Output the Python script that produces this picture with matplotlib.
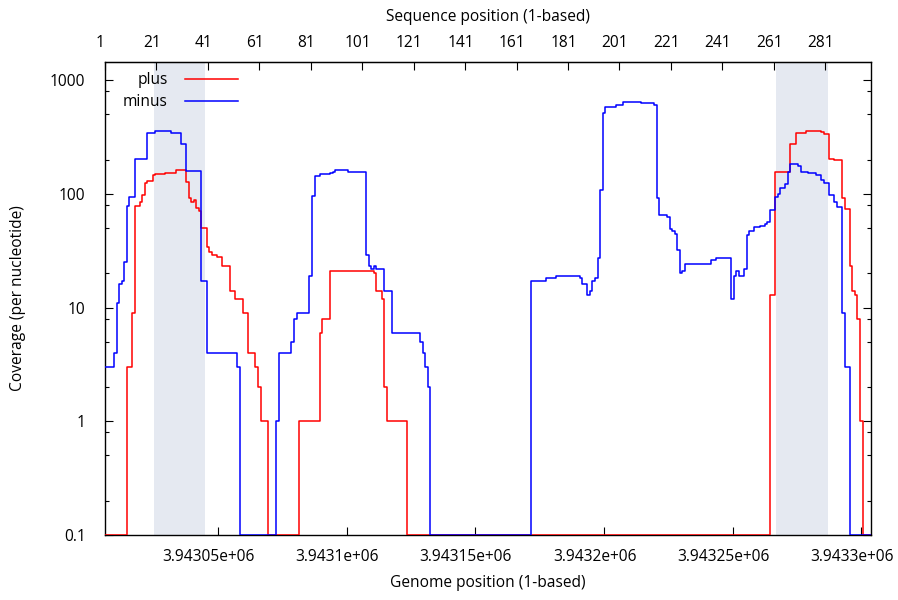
import numpy as np
import matplotlib
matplotlib.use('Agg')
import matplotlib.pyplot as plt
import matplotlib.transforms as mtransforms
from matplotlib.ticker import LogLocator, FixedLocator, FuncFormatter, NullFormatter

plt.rcParams['font.family'] = ['Open Sans', 'DejaVu Sans']
plt.rcParams['font.size'] = 11.2

# genome position = sequence position + offset
offset = 3943005
seq_end = 298.8

# coverage runs: sequence position where a run starts, coverage of that run
plus_start = [1, 10, 12, 13, 15, 16, 17, 18, 20, 21, 25, 29, 33, 34, 35, 36, 37, 38, 39, 41,
              42, 43, 45, 47, 50, 52, 55, 57, 60, 61, 62, 65, 77, 85, 86, 89, 106, 107, 109, 110,
              111, 119, 260, 262, 268, 270, 274, 280, 281, 283, 285, 288, 289, 291, 292, 293, 294, 295, 296]
plus_cov = [0, 3, 9, 78, 85, 98, 124, 129, 146, 149, 153, 162, 128, 92, 84, 88, 75, 70, 50, 34,
            31, 29, 28, 23, 14, 12, 9, 4, 3, 2, 1, 0, 1, 6, 8, 21, 20, 14, 12, 2,
            1, 0, 13, 154, 272, 340, 356, 347, 335, 202, 198, 91, 74, 23, 14, 13, 8, 1, 0]

minus_start = [1, 5, 6, 7, 8, 9, 10, 11, 13, 18, 21, 27, 31, 33, 39, 41, 53, 54, 68, 69,
               74, 75, 76, 81, 82, 83, 85, 89, 90, 91, 96, 103, 104, 105, 106, 107, 110, 113, 124, 125,
               126, 127, 128, 167, 173, 177, 186, 187, 189, 190, 191, 192, 193, 194, 195, 196, 200, 203, 210, 215,
               216, 217, 220, 221, 222, 223, 224, 225, 226, 227, 237, 239, 245, 246, 247, 248, 250, 251, 252, 254,
               256, 258, 259, 260, 262, 263, 264, 266, 267, 268, 271, 272, 275, 278, 280, 281, 283, 285, 286, 288,
               289, 291]
minus_cov = [3, 4, 11, 16, 17, 25, 78, 94, 202, 344, 356, 344, 274, 158, 17, 4, 3, 0, 1, 4,
             5, 8, 9, 19, 96, 143, 149, 153, 156, 162, 155, 29, 23, 22, 23, 22, 14, 6, 5, 4,
             3, 2, 0, 17, 18, 19, 18, 16, 13, 14, 17, 18, 27, 108, 516, 583, 599, 641, 631, 600,
             92, 65, 62, 49, 47, 44, 32, 20, 21, 24, 26, 27, 12, 19, 21, 19, 22, 43, 47, 51,
             52, 54, 57, 72, 94, 100, 112, 121, 156, 181, 177, 154, 151, 146, 132, 125, 97, 84, 77, 9,
             3, 0]

# highlighted regions (sequence positions)
regions = [(20, 40), (262, 282)]

seq_ticks = [1, 21, 41, 61, 81, 101, 121, 141, 161, 181, 201, 221, 241, 261, 281]
genome_ticks = [3943050, 3943100, 3943150, 3943200, 3943250, 3943300]

fig = plt.figure(figsize=(8.98, 6.0), dpi=100)
ax = fig.add_axes([105 / 898, 1 - 535 / 600, 766 / 898, 473 / 600])

for a, b in regions:
    ax.axvspan(a + offset, b + offset, color='#e5e9f1', lw=0, zorder=0)


def step_xy(starts, cov):
    x = np.array(starts + [seq_end + 2], dtype=float) - 0.5 + offset
    y = np.clip(np.array(cov + [cov[-1]], dtype=float), 0.1, None)
    return x, y


x, y = step_xy(plus_start, plus_cov)
ax.step(x, y, where='post', color='#ff0000', lw=1.1, label='plus', zorder=3)
x, y = step_xy(minus_start, minus_cov)
ax.step(x, y, where='post', color='#0000ff', lw=1.1, label='minus', zorder=3)

ax.set_yscale('log')
ax.set_ylim(0.1, 1440)
ax.set_xlim(1 + offset, seq_end + offset)

ax.yaxis.set_major_locator(FixedLocator([0.1, 1, 10, 100, 1000]))
ax.yaxis.set_major_formatter(FuncFormatter(lambda v, p: '%g' % v))
ax.yaxis.set_minor_locator(LogLocator(base=10, subs=(2, 5, 8)))
ax.yaxis.set_minor_formatter(NullFormatter())

ax.xaxis.set_major_locator(FixedLocator(genome_ticks))
ax.xaxis.set_major_formatter(FuncFormatter(lambda v, p: '%g' % v))

ax.tick_params(axis='x', which='major', direction='in', length=6, width=0.8, pad=10)
ax.tick_params(axis='y', which='major', direction='in', length=6, width=0.8, pad=14)
ax.tick_params(axis='y', which='both', right=True)
ax.tick_params(axis='y', which='minor', direction='in', length=3, width=0.8)
ax.tick_params(axis='x', which='minor', bottom=False)

for s in ax.spines.values():
    s.set_linewidth(1.0)

top = ax.secondary_xaxis('top', functions=(lambda g: g - offset, lambda s: s + offset))
top.xaxis.set_major_locator(FixedLocator(seq_ticks))
top.xaxis.set_major_formatter(FuncFormatter(lambda v, p: '%d' % round(v)))
top.tick_params(direction='in', length=6, width=0.8, pad=8)
top.set_xlabel('Sequence position (1-based)', labelpad=10)

ax.set_xlabel('Genome position (1-based)', labelpad=7)
ax.set_ylabel('Coverage (per nucleotide)', labelpad=17)

# tick labels sit a little left of their ticks, like in the original
fig.canvas.draw()
shift_bottom = mtransforms.ScaledTranslation(-9.5 / 100, 0, fig.dpi_scale_trans)
for lbl in ax.get_xticklabels():
    lbl.set_transform(lbl.get_transform() + shift_bottom)
shift_top = mtransforms.ScaledTranslation(-4.5 / 100, 0, fig.dpi_scale_trans)
for lbl in top.get_xticklabels():
    lbl.set_transform(lbl.get_transform() + shift_top)

ax.legend(loc='upper right', bbox_to_anchor=(133 / 766, 1 - 10 / 473), frameon=False,
          markerfirst=False, handlelength=3.4, handletextpad=1.1, borderpad=0,
          labelspacing=0.4, borderaxespad=0)

fig.savefig('out.png', dpi=100)
